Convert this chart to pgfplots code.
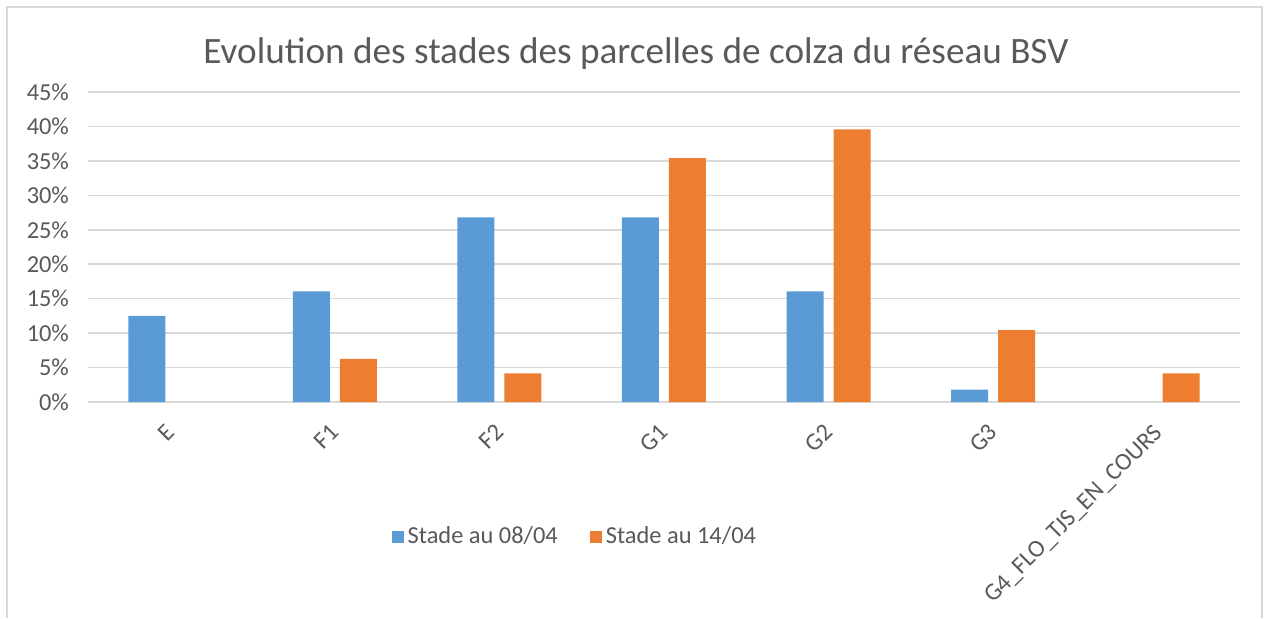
\documentclass[border=0pt]{standalone}
\usepackage{fontspec}
\setmainfont{Carlito}
\usepackage{pgfplots}
\pgfplotsset{compat=1.18}
\definecolor{serA}{HTML}{5B9BD5}
\definecolor{serB}{HTML}{ED7D31}
\definecolor{txt}{HTML}{595959}
\definecolor{gridc}{HTML}{D9D9D9}

\begin{document}
\begin{tikzpicture}
% picture frame, 1 px = 0.5pt
\useasboundingbox (0,0) rectangle (634.5pt,309pt);
\draw[gridc, line width=0.8pt] (3.5pt,0pt) -- (3.5pt,305.5pt) -- (631pt,305.5pt) -- (631pt,0pt);
\node[text=txt, font=\fontsize{18.6}{21}\selectfont] at (318pt,282pt)
  {Evolution des stades des parcelles de colza du réseau BSV};
\begin{axis}[
    at={(44pt,108pt)}, anchor=south west,
    scale only axis,
    width=576pt, height=155pt,
    ybar=5pt,
    bar width=18.5pt,
    xmin=-0.5, xmax=6.5,
    ymin=0, ymax=45,
    xtick={0,1,2,3,4,5,6},
    xticklabels={E,F1,F2,G1,G2,G3,G4\_FLO\_TJS\_EN\_COURS},
    ytick={0,5,...,45},
    yticklabels={0\%,5\%,10\%,15\%,20\%,25\%,30\%,35\%,40\%,45\%},
    major tick length=0pt,
    axis line style={draw=none},
    ymajorgrids=true,
    grid style={gridc, line width=0.75pt},
    tick label style={text=txt, font=\fontsize{12.2}{14}\selectfont},
    yticklabel style={xshift=-6pt},
    xticklabel style={rotate=45, anchor=north east, yshift=-1.9pt, xshift=-5.9pt},
    legend style={at={(0.4235,-0.4355)}, anchor=center, draw=none,
      text=txt, font=\fontsize{12.2}{14}\selectfont,
      /tikz/every even column/.append style={column sep=14pt}},
    legend columns=2,
    legend image code/.code={\fill[#1] (0pt,-3pt) rectangle (6pt,3pt);},
]
\addplot[fill=serA, draw=none] coordinates {
    (0,12.5)(1,16.07)(2,26.79)(3,26.79)(4,16.07)(5,1.79)
};
\addplot[fill=serB, draw=none] coordinates {
    (1,6.25)(2,4.17)(3,35.42)(4,39.58)(5,10.42)(6,4.17)
};
\legend{Stade au 08/04, Stade au 14/04}
\end{axis}
\end{tikzpicture}
\end{document}
